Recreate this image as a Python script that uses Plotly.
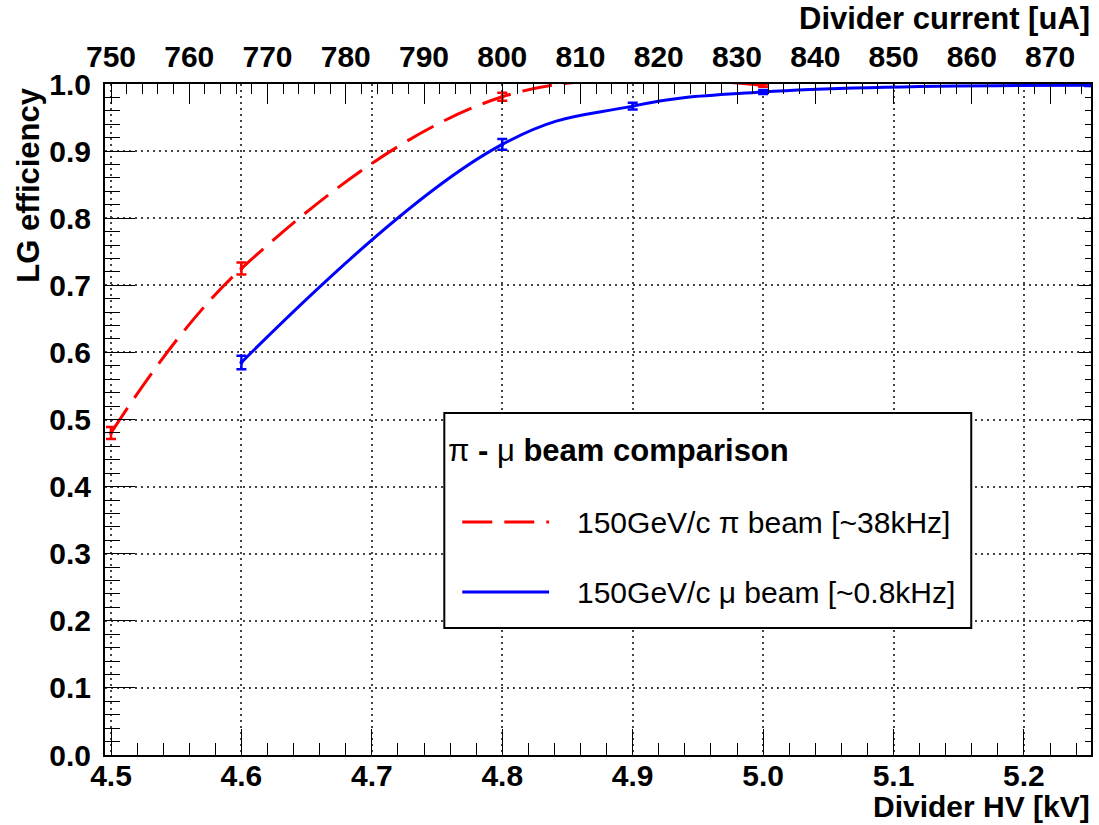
import plotly.graph_objects as go

# LG efficiency vs divider HV for the two beams
pi_hv = [4.5, 4.6, 4.8, 5.0]
pi_eff = [0.48, 0.725, 0.981, 0.998]
pi_err = [0.009, 0.009, 0.006, 0.002]

mu_hv = [4.6, 4.8, 4.9, 5.0, 5.25]
mu_eff = [0.585, 0.910, 0.967, 0.988, 0.998]
mu_err = [0.010, 0.008, 0.005, 0.003, 0.001]

hv_ticks = [4.5, 4.6, 4.7, 4.8, 4.9, 5.0, 5.1, 5.2]
current_ticks = [750, 760, 770, 780, 790, 800, 810, 820, 830, 840, 850, 860, 870]
eff_ticks = [0.0, 0.1, 0.2, 0.3, 0.4, 0.5, 0.6, 0.7, 0.8, 0.9, 1.0]

divider_resistance_mohm = 6.0  # I[uA] = HV[kV] / R[MOhm] * 1000

W, H = 1099, 825
L, R, T, B = 105, 6, 84, 70
hv_range = [4.4954, 5.2514]
cur_range = [v * 1000 / divider_resistance_mohm for v in hv_range]

FONT = "Liberation Sans"
FS_TICK = 30
FS_TITLE = 31
FS_LEG = 30


def px(x):
    return (x - L) / (W - L - R)


def py(y):
    return (H - B - y) / (H - T - B)


fig = go.Figure()

fig.add_trace(go.Scatter(
    x=pi_hv, y=pi_eff, mode="lines+markers",
    line=dict(color="#ff0000", width=3, dash="30px,12px", shape="spline", smoothing=1.05),
    marker=dict(color="#ff0000", size=4),
    error_y=dict(type="data", array=pi_err, color="#ff0000", thickness=2.5, width=5),
    showlegend=False,
))
fig.add_trace(go.Scatter(
    x=mu_hv, y=mu_eff, mode="lines+markers",
    line=dict(color="#0000ff", width=3, shape="spline", smoothing=1.2),
    marker=dict(color="#0000ff", size=4),
    error_y=dict(type="data", array=mu_err, color="#0000ff", thickness=2.5, width=5),
    showlegend=False,
))
# hidden trace carrying the current scale (top axis) and right-hand ticks
fig.add_trace(go.Scatter(
    x=[v * 1000 / divider_resistance_mohm for v in mu_hv], y=mu_eff,
    xaxis="x2", yaxis="y2", mode="markers", marker=dict(opacity=0),
    hoverinfo="skip", showlegend=False,
))

tickfont = dict(family=FONT, size=FS_TICK, color="black", weight="bold")
grid = dict(showgrid=True, gridcolor="#444444", gridwidth=1.5, griddash="2px,4px")

fig.update_layout(
    width=W, height=H,
    margin=dict(l=L, r=R, t=T, b=B, pad=0),
    paper_bgcolor="white", plot_bgcolor="white",
    xaxis=dict(
        range=hv_range, tickvals=hv_ticks, tickformat=".1f",
        ticks="inside", ticklen=26, tickwidth=1.2, tickcolor="black",
        minor=dict(dtick=0.02, tick0=4.5, ticks="inside", ticklen=12, tickwidth=1.2,
                   tickcolor="black", showgrid=False),
        showline=True, linecolor="black", linewidth=2, mirror=True,
        tickfont=tickfont, ticklabelstandoff=-7, zeroline=False, **grid,
    ),
    xaxis2=dict(
        range=cur_range, overlaying="x", side="top", anchor="y2",
        tickvals=current_ticks, ticks="inside", ticklen=20, tickwidth=1.2, tickcolor="black",
        minor=dict(dtick=2, tick0=750, ticks="inside", ticklen=10, tickwidth=1.2,
                   tickcolor="black", showgrid=False),
        showgrid=False, showline=False, zeroline=False,
        tickfont=tickfont, ticklabelstandoff=10,
    ),
    yaxis=dict(
        range=[0, 1], tickvals=eff_ticks, tickformat=".1f",
        ticks="inside", ticklen=30, tickwidth=1.2, tickcolor="black",
        minor=dict(dtick=0.02, tick0=0, ticks="inside", ticklen=15, tickwidth=1.2,
                   tickcolor="black", showgrid=False),
        showline=True, linecolor="black", linewidth=2, mirror=True,
        tickfont=tickfont, ticklabelstandoff=6, zeroline=False, **grid,
    ),
    yaxis2=dict(
        range=[0, 1], overlaying="y", side="right", anchor="x",
        tickvals=eff_ticks, ticks="inside", ticklen=12, tickwidth=1.2, tickcolor="black",
        minor=dict(dtick=0.02, tick0=0, ticks="inside", ticklen=6, tickwidth=1.2,
                   tickcolor="black", showgrid=False),
        showticklabels=False, showgrid=False, showline=False, zeroline=False,
    ),
)

annotations = [
    dict(text="<b>Divider HV [kV]</b>", x=px(1094), y=py(806), xanchor="right", yanchor="middle", size=30),
    dict(text="<b>Divider current [uA]</b>", x=px(1094), y=py(19), xanchor="right", yanchor="middle", size=FS_TITLE),
    dict(text="<b>LG efficiency</b>", x=px(28), y=py(86), xanchor="center", yanchor="top", textangle=-90, size=FS_TITLE),
    dict(text="π <b>-</b> μ <b>beam comparison</b>", x=px(447), y=py(450), xanchor="left", yanchor="middle", size=FS_TITLE),
    dict(text="150GeV/c π beam [~38kHz]", x=px(576), y=py(522), xanchor="left", yanchor="middle", size=FS_LEG),
    dict(text="150GeV/c μ beam [~0.8kHz]", x=px(576), y=py(592), xanchor="left", yanchor="middle", size=FS_LEG),
]
for a in annotations:
    size = a.pop("size")
    fig.add_annotation(xref="paper", yref="paper", showarrow=False,
                       font=dict(family=FONT, size=size, color="black"), **a)

# legend box and line samples
fig.add_shape(type="rect", xref="paper", yref="paper",
              x0=px(445), x1=px(973), y0=py(628), y1=py(413),
              line=dict(color="black", width=2), fillcolor="white", layer="above")
fig.add_shape(type="line", xref="paper", yref="paper",
              x0=px(463), x1=px(550), y0=py(522), y1=py(522),
              line=dict(color="#ff0000", width=3, dash="30px,12px"))
fig.add_shape(type="line", xref="paper", yref="paper",
              x0=px(463), x1=px(550), y0=py(592), y1=py(592),
              line=dict(color="#0000ff", width=3))

fig.write_html("out.html")
